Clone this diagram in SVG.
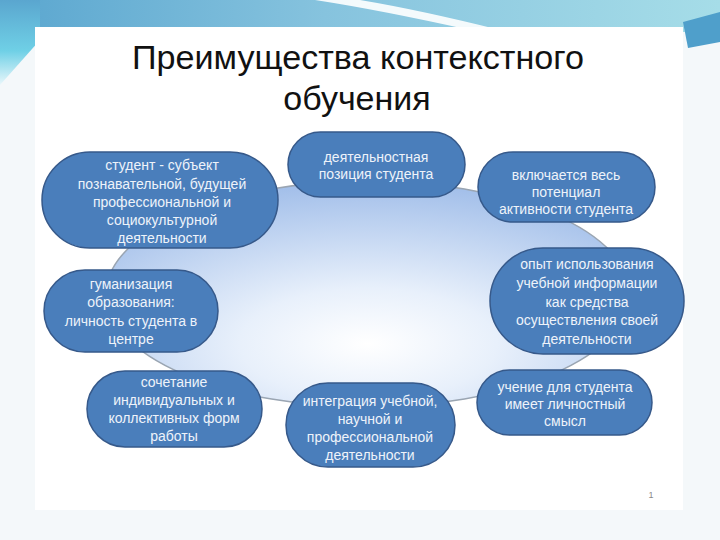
<svg xmlns="http://www.w3.org/2000/svg" width="720" height="540" viewBox="0 0 720 540">
<defs>
<linearGradient id="topband" x1="0" y1="0" x2="1" y2="0">
<stop offset="0" stop-color="#5aa6cf"/>
<stop offset="0.45" stop-color="#86c3de"/>
<stop offset="1" stop-color="#a6dde8"/>
</linearGradient>
<linearGradient id="leftband" x1="0" y1="0" x2="0" y2="1">
<stop offset="0" stop-color="#5aa6cf"/>
<stop offset="0.6" stop-color="#6fd0e6"/>
<stop offset="1" stop-color="#e9f7fb"/>
</linearGradient>
<radialGradient id="hubfill" cx="0.5" cy="0.72" r="0.7">
<stop offset="0" stop-color="#ffffff"/>
<stop offset="0.35" stop-color="#e8f0fb"/>
<stop offset="1" stop-color="#a4c0ea"/>
</radialGradient>
<style>
.node rect{fill:#4a7ebb;stroke:#36598a;stroke-width:1.5}
.node text{font-family:"Liberation Sans",Arial,sans-serif;font-size:14px;fill:#eef3fa;text-anchor:middle}
.title{font-family:"Liberation Sans",Arial,sans-serif;font-size:34px;fill:#111;text-anchor:middle}
</style>
</defs>
<rect x="0" y="0" width="720" height="540" fill="#f4f8fa"/>
<rect x="0" y="0" width="720" height="32" fill="url(#topband)"/>
<path d="M0 0 H40 V40 L0 85 Z" fill="url(#leftband)"/>
<path d="M315 0 Q380 10 470 30 L500 30 Q420 10 360 0 Z" fill="#ffffff" opacity="0.9"/>
<path d="M683 22 L720 12 L720 42 L688 48 Z" fill="#4f9fcb"/>
<rect x="35" y="27" width="648" height="483" fill="#ffffff"/>

<text class="title" x="358" y="69" textLength="452" lengthAdjust="spacingAndGlyphs">Преимущества контекстного</text>
<text class="title" x="357" y="110">обучения</text>

<ellipse cx="368" cy="294" rx="262" ry="113" fill="url(#hubfill)" stroke="#9aa5b2" stroke-width="1.5"/>

<g id="node-subject" class="node">
<rect x="42" y="152" width="236" height="96" rx="48"/>
<text x="162" y="170">студент - субъект</text>
<text x="162" y="189">познавательной, будущей</text>
<text x="162" y="207">профессиональной и</text>
<text x="162" y="225">социокультурной</text>
<text x="162" y="243">деятельности</text>
</g>
<g id="node-position" class="node">
<rect x="288" y="132" width="177" height="65" rx="32.5"/>
<text x="376" y="162">деятельностная</text>
<text x="376" y="179">позиция студента</text>
</g>
<g id="node-potential" class="node">
<rect x="478" y="152" width="177" height="70" rx="35"/>
<text x="566" y="180">включается весь</text>
<text x="566" y="197">потенциал</text>
<text x="566" y="214">активности студента</text>
</g>
<g id="node-humanization" class="node">
<rect x="44" y="270" width="174" height="82" rx="41"/>
<text x="131" y="289">гуманизация</text>
<text x="131" y="307">образования:</text>
<text x="131" y="326">личность студента в</text>
<text x="131" y="344">центре</text>
</g>
<g id="node-experience" class="node">
<rect x="490" y="248" width="194" height="106" rx="53"/>
<text x="587" y="269">опыт использования</text>
<text x="587" y="288">учебной информации</text>
<text x="587" y="307">как средства</text>
<text x="587" y="325">осуществления своей</text>
<text x="587" y="344">деятельности</text>
</g>
<g id="node-combination" class="node">
<rect x="87" y="371" width="175" height="76" rx="38"/>
<text x="174" y="387">сочетание</text>
<text x="174" y="405">индивидуальных и</text>
<text x="174" y="423">коллективных форм</text>
<text x="174" y="441">работы</text>
</g>
<g id="node-integration" class="node">
<rect x="286" y="383" width="169" height="84" rx="42"/>
<text x="370" y="406">интеграция учебной,</text>
<text x="370" y="424">научной и</text>
<text x="370" y="442">профессиональной</text>
<text x="370" y="460">деятельности</text>
</g>
<g id="node-meaning" class="node">
<rect x="477" y="370" width="175" height="65" rx="32.5"/>
<text x="565" y="392">учение для студента</text>
<text x="565" y="409">имеет личностный</text>
<text x="565" y="426">смысл</text>
</g>
<g id="connectors"></g>
<text x="651" y="498" font-family="Liberation Sans, Arial, sans-serif" font-size="9" fill="#8a8a8a" text-anchor="middle">1</text>
</svg>
